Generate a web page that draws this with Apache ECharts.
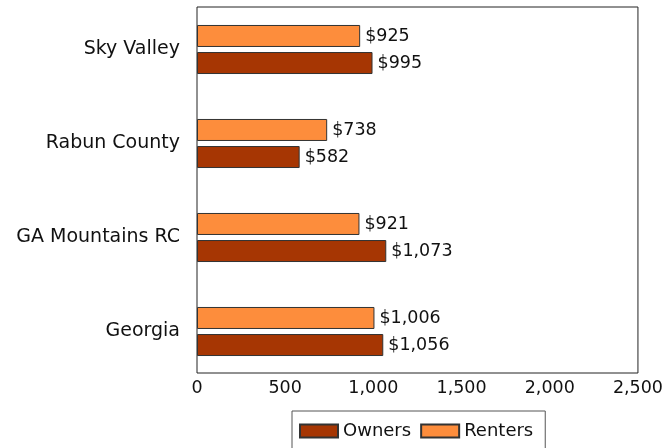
<!DOCTYPE html>
<html>
<head>
<meta charset="UTF-8">
<title>Housing costs</title>
<script src="https://cdn.jsdelivr.net/npm/echarts@6/dist/echarts.min.js"></script>
</head>
<body style="margin:0">
<div id="main" style="width:666px;height:448px;"></div>
<script type="text/javascript">
    var categories = ['Georgia', 'GA Mountains RC', 'Rabun County', 'Sky Valley'];
    var owners = [1056, 1073, 582, 995];
    var renters = [1006, 921, 738, 925];
    var xTicks = [0, 500, 1000, 1500, 2000, 2500];

    var font = 'DejaVu Sans';
    var ink = '#111';
    var chart = echarts.init(document.getElementById('main'));

    function money(p) {
        return '$' + p.value.toLocaleString('en-US');
    }

    var option = {
        animation: false,
        textStyle: { fontFamily: font },
        grid: [
            // bars
            { left: 197, right: 28, top: 2.5, height: 376 },
            // frame + x labels
            { left: 197, right: 28, top: 7, height: 366, show: true, borderColor: '#222', borderWidth: 1 }
        ],
        legend: {
            data: ['Owners', 'Renters'],
            icon: 'rect',
            left: 292,
            top: 411,
            itemWidth: 38,
            itemHeight: 13,
            itemGap: 9,
            padding: [11, 12, 12, 7],
            borderColor: '#555',
            borderWidth: 1,
            textStyle: { fontFamily: font, fontSize: 18, color: ink }
        },
        xAxis: [
            { gridIndex: 0, type: 'value', min: 0, max: 2500, show: false },
            {
                gridIndex: 1, type: 'value', min: 0, max: 2500, interval: 500,
                splitLine: { show: false },
                axisLine: { show: false },
                axisTick: { show: false },
                axisLabel: {
                    margin: 6, fontSize: 17.5, color: ink, fontFamily: font,
                    formatter: function (v) { return v.toLocaleString('en-US'); }
                }
            }
        ],
        yAxis: [
            {
                gridIndex: 0, type: 'category', data: categories,
                axisLine: { show: false },
                axisTick: { show: false },
                axisLabel: { margin: 17, fontSize: 19, color: ink, fontFamily: font }
            },
            { gridIndex: 1, type: 'value', show: false }
        ],
        series: [
            {
                name: 'Renters', type: 'bar', data: renters,
                xAxisIndex: 0, yAxisIndex: 0,
                barWidth: 22, barGap: '23%',
                itemStyle: { color: '#fd8d3c', borderColor: '#333', borderWidth: 1 },
                label: { show: true, position: 'right', distance: 5, fontSize: 17.5, color: ink, fontFamily: font, formatter: money }
            },
            {
                name: 'Owners', type: 'bar', data: owners,
                xAxisIndex: 0, yAxisIndex: 0,
                barWidth: 22, barGap: '23%',
                itemStyle: { color: '#a63603', borderColor: '#333', borderWidth: 1 },
                label: { show: true, position: 'right', distance: 5, fontSize: 17.5, color: ink, fontFamily: font, formatter: money }
            }
        ]
    };

    chart.setOption(option);
</script>
</body>
</html>
